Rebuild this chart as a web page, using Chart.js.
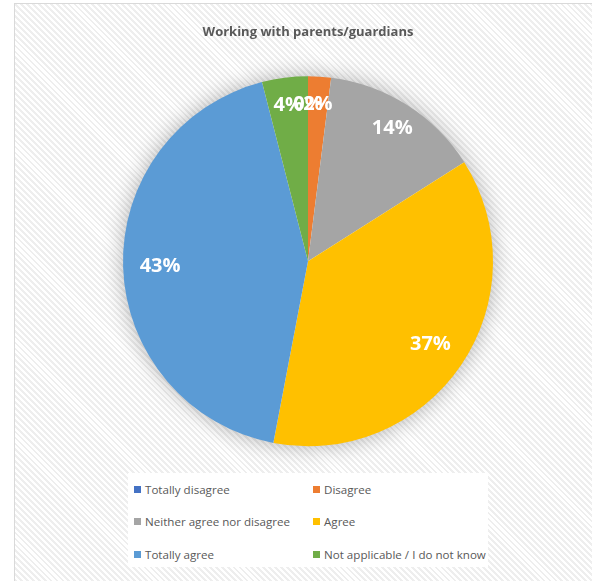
<!DOCTYPE html>
<html>
<head>
<meta charset="utf-8">
<script src="https://cdn.jsdelivr.net/npm/chart.js@4/dist/chart.umd.min.js"></script>
<style>
html, body { margin: 0; padding: 0; background: #fff; overflow: hidden; }
#frame {
    position: absolute; left: 14px; top: 3px; width: 640px; height: 640px;
    border: 1.5px solid #d9d9d9;
    background: repeating-linear-gradient(45deg, #ffffff 0, #ffffff 2.2px, #eeeeee 2.2px, #eeeeee 4.2px);
}
#wrap { position: absolute; left: 0; top: 0; width: 592px; height: 581px; }
#legend {
    position: absolute; left: 128px; top: 473px; width: 360px; height: 94px;
    background: #fff; display: grid; grid-template-columns: 179px 181px;
    grid-auto-rows: 32.5px; padding-left: 6px; box-sizing: border-box;
    font-family: 'Open Sans', sans-serif; font-size: 11.6px; color: #595959;
}
#legend div { display: flex; align-items: center; white-space: nowrap; }
#legend span.box { width: 7px; height: 7px; margin-right: 4px; display: inline-block; }
</style>
</head>
<body>
<div id="frame"></div>
<div id="wrap"><canvas id="pie" width="592" height="581"></canvas></div>
<div id="legend"></div>
<script>
var answers = ['Totally disagree', 'Disagree', 'Neither agree nor disagree', 'Agree', 'Totally agree', 'Not applicable / I do not know'];
var shares = [0, 2, 14, 37, 43, 4];
var sliceColors = ['#4472C4', '#ED7D31', '#A5A5A5', '#FFC000', '#5B9BD5', '#70AD47'];

// soft shadow behind the whole pie
var pieShadow = {
    id: 'pieShadow',
    beforeDatasetsDraw: function (chart) {
        var arc = chart.getDatasetMeta(0).data[0];
        if (!arc) return;
        var ctx = chart.ctx;
        ctx.save();
        ctx.shadowColor = 'rgba(0,0,0,0.32)';
        ctx.shadowBlur = 22;
        ctx.fillStyle = '#ffffff';
        ctx.beginPath();
        ctx.arc(arc.x, arc.y, arc.outerRadius - 1, 0, Math.PI * 2);
        ctx.fill();
        ctx.restore();
    }
};

// percent labels inside the slices
var sliceLabels = {
    id: 'sliceLabels',
    afterDatasetsDraw: function (chart) {
        var ctx = chart.ctx;
        var meta = chart.getDatasetMeta(0);
        ctx.save();
        ctx.font = 'bold 20px "Open Sans", sans-serif';
        ctx.fillStyle = '#ffffff';
        ctx.textAlign = 'center';
        ctx.textBaseline = 'middle';
        meta.data.forEach(function (arc, i) {
            var mid = (arc.startAngle + arc.endAngle) / 2;
            var r = arc.outerRadius * (shares[i] > 20 ? 0.8 : 0.85);
            ctx.fillText(shares[i] + '%', arc.x + Math.cos(mid) * r, arc.y + Math.sin(mid) * r);
        });
        ctx.restore();
    }
};

var pie = new Chart(document.getElementById('pie').getContext('2d'), {
    type: 'pie',
    data: {
        labels: answers,
        datasets: [{
            data: shares,
            backgroundColor: sliceColors,
            borderWidth: 0
        }]
    },
    options: {
        responsive: false,
        animation: false,
        layout: { padding: { left: 123, right: 99, top: 24, bottom: 134 } },
        plugins: {
            legend: { display: false },
            tooltip: { enabled: false },
            title: {
                display: true,
                text: 'Working with parents/guardians',
                color: '#595959',
                font: { family: 'Open Sans', size: 13, weight: 'bold' },
                padding: { top: 0, bottom: 36 }
            }
        }
    },
    plugins: [pieShadow, sliceLabels]
});

// legend in two columns, built from the same arrays
var legend = document.getElementById('legend');
answers.forEach(function (name, i) {
    var item = document.createElement('div');
    item.innerHTML = '<span class="box" style="background:' + sliceColors[i] + '"></span>' + name;
    legend.appendChild(item);
});
</script>
</body>
</html>
